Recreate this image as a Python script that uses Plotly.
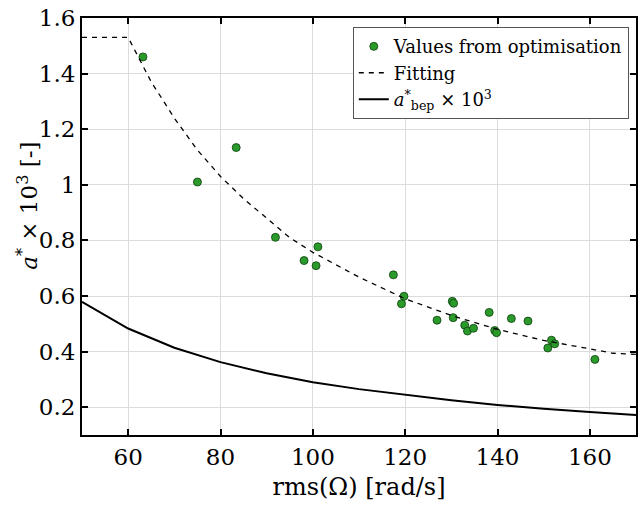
import plotly.graph_objects as go

# Optimisation results
opt_x = [63.2, 75.0, 83.4, 91.9, 98.1, 100.7, 101.1, 117.45, 119.2, 119.74, 126.9,
         130.2, 130.5, 130.4, 132.9, 133.5, 134.8, 138.2, 139.4, 139.8, 143.0,
         146.6, 150.9, 151.7, 152.4, 161.1]
opt_y = [1.46, 1.01, 1.134, 0.811, 0.7275, 0.709, 0.777, 0.676, 0.572, 0.599, 0.513,
         0.581, 0.574, 0.522, 0.495, 0.474, 0.484, 0.541, 0.476, 0.468, 0.519,
         0.510, 0.413, 0.441, 0.428, 0.372]

# Fitting curve
fit_x = [50, 60, 65, 70, 75, 80, 85, 90, 95, 100, 110, 120, 130, 140, 150, 160, 165, 170]
fit_y = [1.53, 1.53, 1.37, 1.24, 1.125, 1.03, 0.95, 0.88, 0.81, 0.757, 0.668, 0.59,
         0.53, 0.48, 0.44, 0.41, 0.394, 0.39]

# a*_bep x 10^3
bep_x = [50, 60, 70, 80, 90, 100, 110, 120, 130, 140, 150, 160, 170]
bep_y = [0.579, 0.483, 0.414, 0.362, 0.322, 0.29, 0.265, 0.244, 0.225, 0.208, 0.194, 0.183, 0.172]

x_ticks = [60, 80, 100, 120, 140, 160]
y_ticks = [0.2, 0.4, 0.6, 0.8, 1.0, 1.2, 1.4, 1.6]
y_ticktext = ["0.2", "0.4", "0.6", "0.8", "1", "1.2", "1.4", "1.6"]

FONT = "DejaVu Serif"

fig = go.Figure()
fig.add_trace(go.Scatter(
    x=opt_x, y=opt_y, mode="markers", name="Values from optimisation",
    marker=dict(size=8, color="#2a9a2a", line=dict(color="#0f3f0f", width=0.8)),
))
fig.add_trace(go.Scatter(
    x=fit_x, y=fit_y, mode="lines", name="Fitting",
    line=dict(color="black", width=1.3, dash="5px,5px"),
))
fig.add_trace(go.Scatter(
    x=bep_x, y=bep_y, mode="lines",
    name="<i>a</i><sup>*</sup><sub>bep</sub> × 10<sup>3</sup>",
    line=dict(color="black", width=2),
))

axis_common = dict(
    showline=True, linecolor="black", linewidth=2, mirror="ticks",
    ticks="inside", ticklen=6, tickwidth=2, tickcolor="black",
    showgrid=True, gridcolor="#dcdcdc", gridwidth=1, zeroline=False,
    tickfont=dict(family=FONT, size=23, color="black"),
)

fig.update_layout(
    width=638, height=509,
    margin=dict(l=82, r=0, t=18, b=74),
    paper_bgcolor="white", plot_bgcolor="white",
    font=dict(family=FONT, color="black"),
    showlegend=True,
    legend=dict(
        x=0.987, y=0.978, xanchor="right", yanchor="top",
        bgcolor="white", bordercolor="#555555", borderwidth=1,
        font=dict(family=FONT, size=18, color="black"),
        tracegroupgap=0, itemwidth=30,
    ),
)
fig.update_xaxes(
    range=[50, 170], tickvals=x_ticks,
    title=dict(text="rms(Ω) [rad/s]", font=dict(family=FONT, size=24, color="black"), standoff=10),
    **axis_common,
)
fig.update_yaxes(
    range=[0.1, 1.6], tickvals=y_ticks, ticktext=y_ticktext,
    **axis_common,
)
fig.add_annotation(
    text="<i>a</i><sup>*</sup> × 10<sup>3</sup> [-]",
    xref="paper", yref="paper", x=-0.099, y=0.55, xanchor="center", yanchor="middle",
    textangle=-90, showarrow=False, font=dict(family=FONT, size=23, color="black"),
)

fig.write_html("out.html")
